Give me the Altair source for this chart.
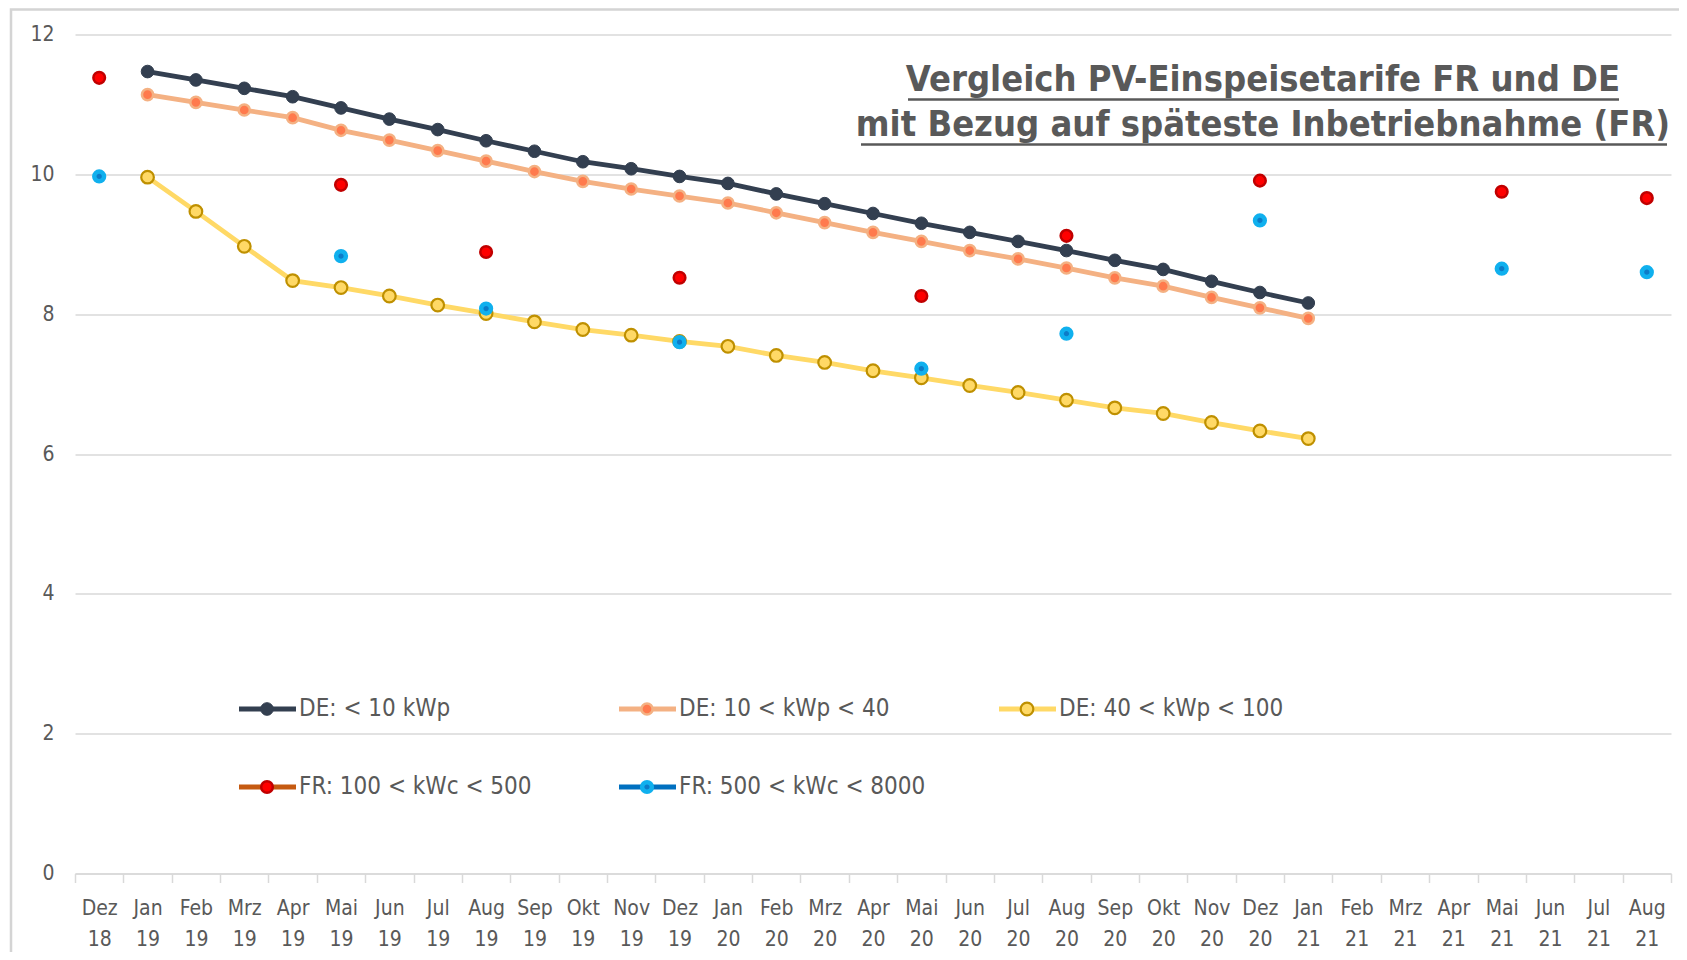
import altair as alt
import pandas as pd

months = ["Dez 18",
          "Jan 19", "Feb 19", "Mrz 19", "Apr 19", "Mai 19", "Jun 19", "Jul 19", "Aug 19", "Sep 19", "Okt 19", "Nov 19", "Dez 19",
          "Jan 20", "Feb 20", "Mrz 20", "Apr 20", "Mai 20", "Jun 20", "Jul 20", "Aug 20", "Sep 20", "Okt 20", "Nov 20", "Dez 20",
          "Jan 21", "Feb 21", "Mrz 21", "Apr 21", "Mai 21", "Jun 21", "Jul 21", "Aug 21"]

de_months = months[1:26]
de_lt10 = [11.47, 11.35, 11.23, 11.11, 10.95, 10.79, 10.64, 10.48, 10.33, 10.18, 10.08, 9.97,
           9.87, 9.72, 9.58, 9.44, 9.30, 9.17, 9.04, 8.91, 8.77, 8.64, 8.47, 8.31, 8.16]
de_10_40 = [11.14, 11.03, 10.92, 10.81, 10.63, 10.49, 10.34, 10.19, 10.04, 9.90, 9.79, 9.69,
            9.59, 9.45, 9.31, 9.17, 9.04, 8.91, 8.79, 8.66, 8.52, 8.40, 8.24, 8.09, 7.94]
de_40_100 = [9.96, 9.47, 8.97, 8.48, 8.38, 8.26, 8.13, 8.01, 7.89, 7.78, 7.70, 7.61,
             7.54, 7.41, 7.31, 7.19, 7.09, 6.98, 6.88, 6.77, 6.66, 6.58, 6.45, 6.33, 6.22]

fr_months = ["Dez 18", "Mai 19", "Aug 19", "Dez 19", "Mai 20", "Aug 20", "Dez 20", "Mai 21", "Aug 21"]
fr_100_500 = [11.38, 9.85, 8.89, 8.52, 8.26, 9.12, 9.91, 9.75, 9.66]
fr_500_8000 = [9.97, 8.83, 8.08, 7.60, 7.22, 7.72, 9.34, 8.65, 8.60]

y_ticks = [0, 2, 4, 6, 8, 10, 12]

legend_labels = ["DE: < 10 kWp", "DE: 10 < kWp < 40", "DE: 40 < kWp < 100",
                 "FR: 100 < kWc < 500", "FR: 500 < kWc < 8000"]

title_lines = ["Vergleich PV-Einspeisetarife FR und DE",
               "mit Bezug auf späteste Inbetriebnahme (FR)"]

W, H = 1596, 839
GREY = "#595959"
GRID = "#D9D9D9"
FONT = "Liberation Sans Narrow, DejaVu Sans Condensed, Liberation Sans, sans-serif"

xscale = alt.Scale(type="band", domain=months, paddingInner=0, paddingOuter=0)
yscale = alt.Scale(domain=[0, 12], nice=False)

xenc = alt.X("month:N", scale=xscale, bandPosition=0.5,
             axis=alt.Axis(title=None, grid=False, tickBand="extent", ticks=True, tickSize=9,
                           tickColor=GRID, tickWidth=1.5, domainColor=GRID, domainWidth=1.5,
                           labelExpr="split(datum.label, ' ')", labelLineHeight=31,
                           labelBaseline="top", labelPadding=15, labelFontSize=21,
                           labelColor=GREY, labelFont=FONT, labelAngle=0))
yenc = alt.Y("value:Q", scale=yscale,
             axis=alt.Axis(title=None, values=y_ticks, grid=True, gridColor=GRID, gridWidth=1.5,
                           domain=False, ticks=False, labelPadding=21, labelFontSize=21,
                           labelColor=GREY, labelFont=FONT))


def series_df(xs, vs):
    return pd.DataFrame({"month": xs, "value": vs})


layers = []

# frame around chart
frame = alt.Chart(pd.DataFrame({"a": [0]})).mark_rect(
    fill=None, stroke="#D4D4D4", strokeWidth=2.5, clip=False
).encode(x=alt.value(-64), x2=alt.value(W + 40), y=alt.value(-25), y2=alt.value(H + 120))
layers.append(frame)

de_styles = [
    (de_lt10, "#333F50", dict(fill="#333F50", stroke="#333F50", strokeWidth=1, size=160)),
    (de_10_40, "#F4B183", dict(fill="#FF7A4D", stroke="#F4B183", strokeWidth=2.5, size=125)),
    (de_40_100, "#FFD966", dict(fill="#FFD966", stroke="#BF9000", strokeWidth=2.2, size=160)),
]

for vals, lc, ms in de_styles:
    df = series_df(de_months, vals)
    base = alt.Chart(df)
    layers.append(base.mark_line(color=lc, strokeWidth=4.8).encode(x=xenc, y=yenc))
    layers.append(base.mark_point(filled=True, opacity=1, shape="circle", **ms).encode(x=xenc, y=yenc))

fr_styles = [
    (fr_100_500, dict(fill="#FF0000", stroke="#C00000", strokeWidth=2.5, size=135)),
    (fr_500_8000, dict(fill="#0C7CC8", stroke="#10B0EE", strokeWidth=4.5, size=95)),
]
for vals, ms in fr_styles:
    df = series_df(fr_months, vals)
    layers.append(alt.Chart(df).mark_point(filled=True, opacity=1, shape="circle", **ms).encode(x=xenc, y=yenc))

# manual legend
leg_line_colors = ["#333F50", "#F4B183", "#FFD966", "#C55A11", "#0070C0"]
leg_markers = [de_styles[0][2], de_styles[1][2], de_styles[2][2], fr_styles[0][1], fr_styles[1][1]]
col_x = [164, 544, 924]
row_y = [674.5, 752.5]
one = pd.DataFrame({"a": [0]})
for i, lab in enumerate(legend_labels):
    r, c = divmod(i, 3)
    x0 = col_x[c]
    y0 = row_y[r]
    layers.append(alt.Chart(one).mark_rule(color=leg_line_colors[i], strokeWidth=5).encode(
        x=alt.value(x0), x2=alt.value(x0 + 57), y=alt.value(y0)))
    layers.append(alt.Chart(one).mark_point(filled=True, opacity=1, shape="circle", **leg_markers[i]).encode(
        x=alt.value(x0 + 28), y=alt.value(y0)))
    layers.append(alt.Chart(one).mark_text(align="left", baseline="middle", fontSize=24, font=FONT,
                                           color=GREY).encode(
        x=alt.value(x0 + 60), y=alt.value(y0), text=alt.value(lab)))

# title with underline
title_cx = 1188
title_y = [45, 90.5]
for t, ty in zip(title_lines, title_y):
    layers.append(alt.Chart(one).mark_text(align="center", baseline="middle", fontSize=36, font=FONT,
                                           fontWeight="bold", color=GREY, clip=False).encode(
        x=alt.value(title_cx), y=alt.value(ty), text=alt.value(t)))
layers.append(alt.Chart(one).mark_rule(color=GREY, strokeWidth=2.5, clip=False).encode(
    x=alt.value(833), x2=alt.value(1544), y=alt.value(65)))
layers.append(alt.Chart(one).mark_rule(color=GREY, strokeWidth=2.5, clip=False).encode(
    x=alt.value(786), x2=alt.value(1592), y=alt.value(110)))

chart = alt.layer(*layers).properties(
    width=W, height=H,
    autosize=alt.AutoSizeParams(type="none"),
    padding={"left": 67, "top": 26.5, "right": 8, "bottom": 78},
    background="white",
).configure_view(stroke=None)

chart.save("out.html", embed_options={"renderer": "svg", "actions": False})
